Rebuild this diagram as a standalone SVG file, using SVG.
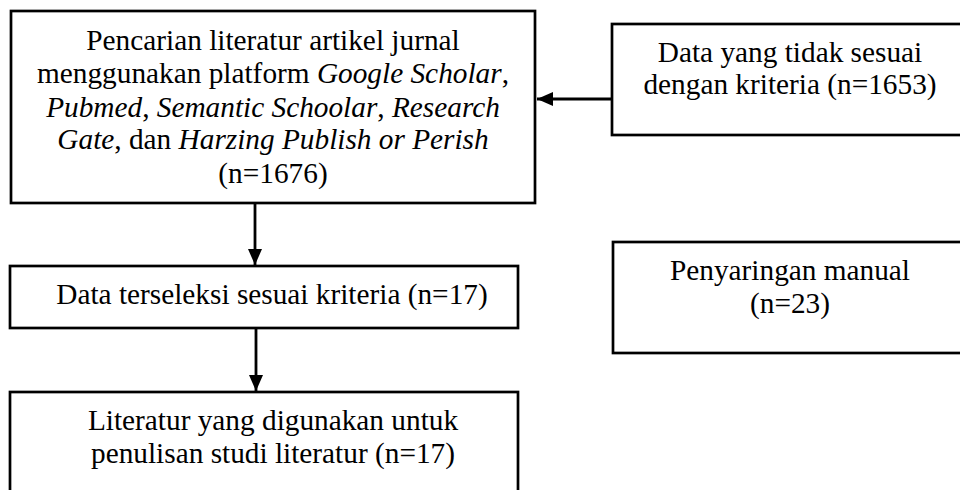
<svg xmlns="http://www.w3.org/2000/svg" width="960" height="490" viewBox="0 0 960 490">
<style>
.box{fill:#fff;stroke:#000;stroke-width:2.7}
.t{font-family:"Liberation Serif","Times New Roman",serif;font-size:29.3px;fill:#000;text-anchor:middle}
.i{font-style:italic}
.c{stroke:#000;stroke-width:2.8;fill:none}
</style>
<defs>
<marker id="ah" viewBox="0 0 16 14" refX="16" refY="7" markerWidth="16" markerHeight="14" markerUnits="userSpaceOnUse" orient="auto">
<path d="M0,0 L16,7 L0,14 z" fill="#000"/>
</marker>
</defs>
<rect width="960" height="490" fill="#fff"/>
<g id="connectors">
<line class="c" x1="612" y1="99" x2="537" y2="99" marker-end="url(#ah)"/>
<line class="c" x1="255" y1="203" x2="255" y2="265" marker-end="url(#ah)"/>
<line class="c" x1="256" y1="328" x2="256" y2="391" marker-end="url(#ah)"/>
</g>
<g id="n1">
<rect class="box" x="11" y="11" width="524" height="192"/>
<text class="t" x="273" y="50">Pencarian literatur artikel jurnal</text>
<text class="t" x="273" y="83">menggunakan platform <tspan class="i">Google Scholar</tspan>,</text>
<text class="t" x="273" y="117"><tspan class="i">Pubmed</tspan>, <tspan class="i">Semantic Schoolar</tspan>, <tspan class="i">Research</tspan></text>
<text class="t" x="273" y="149"><tspan class="i">Gate</tspan>, dan <tspan class="i">Harzing Publish or Perish</tspan></text>
<text class="t" x="273" y="183">(n=1676)</text>
</g>
<g id="n2">
<rect class="box" x="612" y="24" width="350" height="111"/>
<text class="t" x="790" y="62">Data yang tidak sesuai</text>
<text class="t" x="790" y="94">dengan kriteria (n=1653)</text>
</g>
<g id="n3">
<rect class="box" x="10" y="266" width="508" height="62"/>
<text class="t" x="272" y="304">Data terseleksi sesuai kriteria (n=17)</text>
</g>
<g id="n4">
<rect class="box" x="613" y="242" width="349" height="111"/>
<text class="t" x="790" y="280">Penyaringan manual</text>
<text class="t" x="790" y="313">(n=23)</text>
</g>
<g id="n5">
<rect class="box" x="10" y="392" width="508" height="110"/>
<text class="t" x="273" y="430">Literatur yang digunakan untuk</text>
<text class="t" x="273" y="463">penulisan studi literatur (n=17)</text>
</g>
</svg>
